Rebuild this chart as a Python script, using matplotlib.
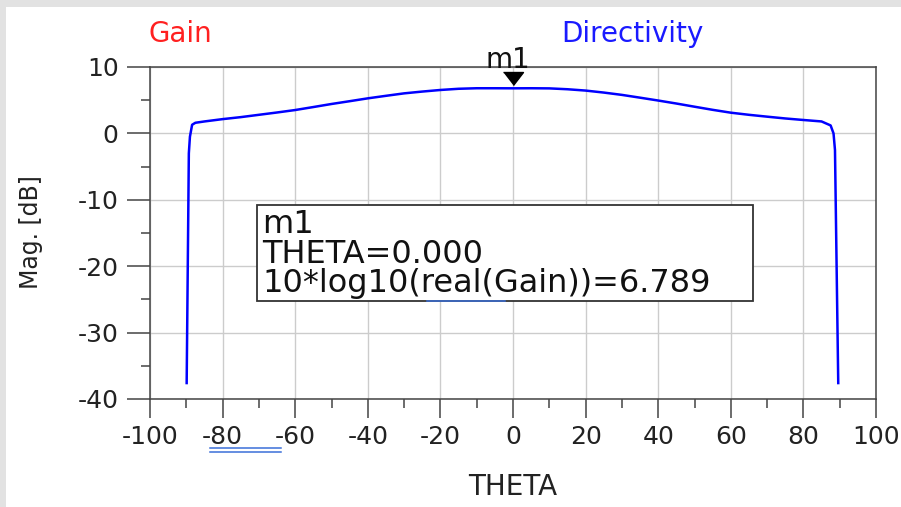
import matplotlib
matplotlib.use("Agg")
import matplotlib.pyplot as plt
from matplotlib.patches import Rectangle
from matplotlib.lines import Line2D
from matplotlib.transforms import ScaledTranslation

# gain pattern cut, 10*log10(real(Gain)) vs THETA
theta = [-89.9, -89.3, -89.0, -88.4, -87.5, -85, -80, -75, -70, -65, -60, -55,
         -50, -45, -40, -35, -30, -25, -20, -15, -10, -5, 0, 5, 10, 15, 20,
         25, 30, 35, 40, 45, 50, 55, 60, 65, 70, 75, 80, 85, 87.5, 88.3,
         88.7, 89.6]
gain_db = [-37.6, -3.0, -0.5, 1.3, 1.6, 1.8, 2.15, 2.45, 2.8, 3.15, 3.52, 3.97,
           4.43, 4.85, 5.28, 5.66, 6.03, 6.3, 6.54, 6.72, 6.8, 6.8, 6.789, 6.8,
           6.78, 6.65, 6.45, 6.15, 5.8, 5.38, 4.95, 4.5, 4.02, 3.55, 3.12, 2.8,
           2.52, 2.25, 2.02, 1.8, 1.2, 0.0, -2.5, -37.6]

marker_name = "m1"
marker_theta = 0.0
marker_value = 6.789

x_major = [-100, -80, -60, -40, -20, 0, 20, 40, 60, 80, 100]
x_minor = [-90, -70, -50, -30, -10, 10, 30, 50, 70, 90]
y_major = [10, 0, -10, -20, -30, -40]
y_minor = [5, -5, -15, -25, -35]

W, H = 901, 507
DARK = "#444444"

plt.rcParams["font.family"] = ["DejaVu Sans"]
plt.rcParams["axes.unicode_minus"] = False


def px(x, y):
    # pixel position -> figure fraction
    return x / W, 1 - y / H


fig = plt.figure(figsize=(W / 100, H / 100), dpi=100, facecolor="#e2e2e2")
fig.patches.append(Rectangle(px(6, H), 1, 1 - 7 / H, transform=fig.transFigure,
                             facecolor="white", edgecolor="none", zorder=-5))

ax = fig.add_axes([150 / W, (H - 399) / H, (876 - 150) / W, (399 - 67) / H])
ax.set_xlim(-100, 100)
ax.set_ylim(-40, 10)
ax.set_xticks(x_major)
ax.set_xticks(x_minor, minor=True)
ax.set_yticks(y_major)
ax.set_yticks(y_minor, minor=True)
ax.grid(True, which="major", color="#cccccc", linewidth=1.0)
ax.set_axisbelow(True)
for sp in ax.spines.values():
    sp.set_color(DARK)
    sp.set_linewidth(1.1)

ax.tick_params(axis="both", which="both", direction="out", color=DARK,
               width=1.1, labelcolor="#222222", labelsize=18)
ax.tick_params(axis="y", which="major", length=16.5, pad=6)
ax.tick_params(axis="y", which="minor", length=6.5)
ax.tick_params(axis="x", which="major", length=13.5, pad=5)
ax.tick_params(axis="x", which="minor", length=6.5)

ax.plot(theta, gain_db, color="#0000ff", linewidth=1.8, zorder=3)

# marker triangle with its tip on the trace
tri = [(-10, 13), (10, 13), (0, 0)]
shift = ScaledTranslation(0, 3 / 100, fig.dpi_scale_trans)
ax.plot([marker_theta], [marker_value], marker=tri, markersize=18.7,
        color="black", linestyle="none", transform=ax.transData + shift,
        clip_on=False, zorder=4)
ax.annotate(marker_name, xy=(marker_theta, marker_value), xytext=(-3.6, 14.4),
            textcoords="offset points", ha="center", va="baseline",
            fontsize=20, color="#111111", annotation_clip=False)

# marker readout box
bx0, by0 = px(257, 301)
bx1, by1 = px(753, 205)
fig.patches.append(Rectangle((bx0, by0), bx1 - bx0, by1 - by0,
                             transform=fig.transFigure, facecolor="white",
                             edgecolor="#333333", linewidth=1.3, zorder=2))
readout = [marker_name,
           f"THETA={marker_theta:.3f}",
           f"10*log10(real(Gain))={marker_value:.3f}"]
for line, base in zip(readout, [233, 263, 292]):
    fig.text(*px(262, base), line, fontsize=23, color="#111111",
             ha="left", va="baseline", zorder=3)

# underline marks
for x0, x1, y in [(427, 505, 301), (210, 281, 448), (210, 281, 452)]:
    (a, b), (c, d) = px(x0, y), px(x1, y)
    fig.add_artist(Line2D([a, c], [b, d], color="#3b6fd8", linewidth=1.1,
                          transform=fig.transFigure, zorder=5))

fig.text(*px(148, 42), "Gain", color="#ff2020", fontsize=20,
         ha="left", va="baseline")
fig.text(*px(561, 42), "Directivity", color="#1a1aff", fontsize=20,
         ha="left", va="baseline")
fig.text(*px(513, 487), "THETA", color="#222222", fontsize=20,
         ha="center", va="center")
fig.text(*px(31, 232), "Mag. [dB]", color="#222222", fontsize=17,
         ha="center", va="center", rotation=90)

fig.savefig("out.png", dpi=100, facecolor=fig.get_facecolor())
